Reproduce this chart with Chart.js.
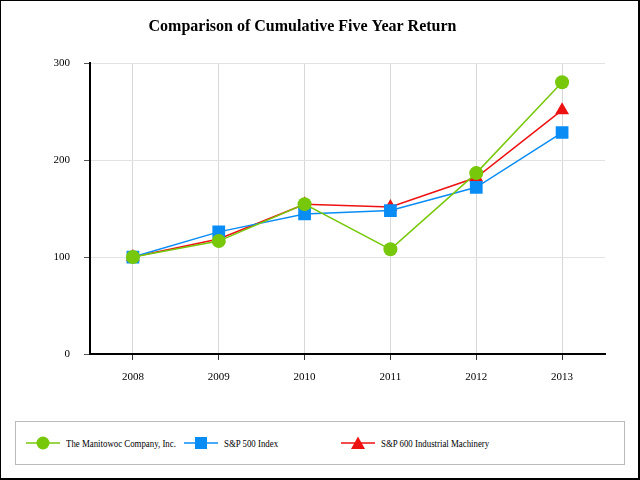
<!DOCTYPE html>
<html>
<head>
<meta charset="utf-8">
<script src="https://cdn.jsdelivr.net/npm/chart.js@4"></script>
<style>
  html, body { margin: 0; padding: 0; background: #fff; }
  #frame {
    position: relative; width: 640px; height: 480px; box-sizing: border-box;
    border: 1px solid #000; border-right-width: 2px; border-bottom-width: 2px;
    overflow: hidden; font-family: "Liberation Serif", "Times New Roman", serif;
  }
  #wrap { position: absolute; left: -1px; top: -1px; width: 640px; height: 410px; }
  #legend {
    position: absolute; left: 14px; top: 420px; width: 610px; height: 44px;
    box-sizing: border-box; border: 1px solid #bbb;
  }
  .item { position: absolute; top: 0; height: 42px; display: flex; align-items: center; font-size: 10.5px; color: #000; }
  .item canvas { margin-right: 6px; }
  .item span { display: inline-block; transform: scaleX(0.84); transform-origin: left center; white-space: nowrap; }
</style>
</head>
<body>
<div id="frame">
  <div id="wrap"><canvas id="returnChart"></canvas></div>
  <div id="legend"></div>
</div>
<script>
const years = ['2008', '2009', '2010', '2011', '2012', '2013'];
const manitowoc = [100, 116.5, 154.6, 108, 186.6, 280.4];
const sp500 = [100, 126, 144.5, 148, 172, 228.5];
const sp600 = [100, 118.6, 154.5, 151.7, 182, 251.5];
const yTicks = [0, 100, 200, 300];

const green = '#77c80a';
const blue = '#0a8cf5';
const red = '#ee1111';

const series = [
  { label: 'The Manitowoc Company, Inc.', data: manitowoc, color: green, style: 'circle', radius: 7 },
  { label: 'S&P 500 Index', data: sp500, color: blue, style: 'rect', radius: 9 },
  { label: 'S&P 600 Industrial Machinery', data: sp600, color: red, style: 'triangle', radius: 8 },
];

const ctx = document.getElementById('returnChart').getContext('2d');
new Chart(ctx, {
  type: 'line',
  data: {
    labels: years,
    datasets: series.map(s => ({
      label: s.label,
      data: s.data,
      borderColor: s.color,
      backgroundColor: s.color,
      pointBackgroundColor: s.color,
      pointBorderColor: s.color,
      pointBorderWidth: 0,
      pointStyle: s.style,
      pointRadius: s.radius,
      borderWidth: 1.5,
      tension: 0,
    })),
  },
  options: {
    responsive: true,
    maintainAspectRatio: false,
    animation: false,
    layout: { padding: { left: 0, right: 35, top: 0, bottom: 0 } },
    plugins: {
      legend: { display: false },
      tooltip: { enabled: false },
      title: {
        display: true,
        text: 'Comparison of Cumulative Five Year Return',
        color: '#000',
        font: { family: 'Liberation Serif', size: 16, weight: 'bold' },
        padding: { top: 17, bottom: 27 },
      },
    },
    scales: {
      x: {
        offset: true,
        grid: { offset: false, color: '#d8d8d8', tickColor: '#333', tickLength: 6 },
        border: { color: '#000', width: 2 },
        ticks: { color: '#000', font: { family: 'Liberation Serif', size: 11 }, padding: 11 },
        afterFit: (scale) => { scale.height = 56; },
      },
      y: {
        min: 0,
        max: 300,
        afterBuildTicks: (scale) => { scale.ticks = yTicks.map(v => ({ value: v })); },
        grid: { color: '#e2e2e2', tickColor: '#555', tickLength: 6 },
        border: { color: '#000', width: 2 },
        ticks: { color: '#000', font: { family: 'Liberation Serif', size: 11 }, padding: 14 },
        afterFit: (scale) => { scale.width = 90; },
      },
    },
  },
});

// legend with line + marker swatches
const legend = document.getElementById('legend');
const columns = [10, 168, 325];
series.forEach((s, i) => {
  const item = document.createElement('div');
  item.className = 'item';
  item.style.left = columns[i] + 'px';
  const sw = document.createElement('canvas');
  sw.width = 34; sw.height = 16;
  const g = sw.getContext('2d');
  g.strokeStyle = s.color; g.fillStyle = s.color; g.lineWidth = 1.5;
  g.beginPath(); g.moveTo(0, 8); g.lineTo(34, 8); g.stroke();
  g.beginPath();
  if (s.style === 'circle') g.arc(17, 8, 6.5, 0, Math.PI * 2);
  else if (s.style === 'rect') g.rect(11, 2, 12, 12);
  else { g.moveTo(17, 1.5); g.lineTo(24, 14); g.lineTo(10, 14); g.closePath(); }
  g.fill();
  const txt = document.createElement('span');
  txt.textContent = s.label;
  item.appendChild(sw);
  item.appendChild(txt);
  legend.appendChild(item);
});
</script>
</body>
</html>
